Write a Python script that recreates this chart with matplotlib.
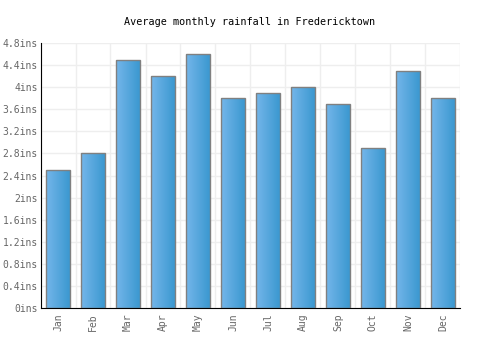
import numpy as np
import matplotlib.pyplot as plt
from matplotlib.colors import LinearSegmentedColormap

months = ['Jan', 'Feb', 'Mar', 'Apr', 'May', 'Jun', 'Jul', 'Aug', 'Sep', 'Oct', 'Nov', 'Dec']
rainfall = [2.5, 2.8, 4.5, 4.2, 4.6, 3.8, 3.9, 4.0, 3.7, 2.9, 4.3, 3.8]
yticks = [0, 0.4, 0.8, 1.2, 1.6, 2.0, 2.4, 2.8, 3.2, 3.6, 4.0, 4.4, 4.8]
ylabels = ['0ins', '0.4ins', '0.8ins', '1.2ins', '1.6ins', '2ins', '2.4ins',
           '2.8ins', '3.2ins', '3.6ins', '4ins', '4.4ins', '4.8ins']

plt.rcParams['font.family'] = ['DejaVu Sans Mono']

fig = plt.figure(figsize=(5, 3.5), dpi=100)
ax = fig.add_axes([0.081, 0.12, 0.84, 0.757])

x = np.arange(len(months))
bars = ax.bar(x, rainfall, width=0.67, facecolor='none', edgecolor='#808080', linewidth=1, zorder=3)

# horizontal gradient fill inside each bar
cmap = LinearSegmentedColormap.from_list('blu', ['#74b6ea', '#3b98d0'])
grad = np.linspace(0, 1, 64).reshape(1, -1)
for b in bars:
    x0, y0 = b.get_x(), b.get_y()
    w, h = b.get_width(), b.get_height()
    im = ax.imshow(grad, cmap=cmap, aspect='auto', extent=[x0, x0 + w, y0, y0 + h], zorder=2)
    im.set_clip_path(b)

ax.set_xlim(-0.5, len(months) - 0.5)
ax.set_ylim(0, 4.8)
ax.set_xticks(x)
ax.set_xticklabels(months, rotation=90, fontsize=7, color='#666666')
ax.set_yticks(yticks)
ax.set_yticklabels(ylabels, fontsize=7, color='#666666')
ax.set_xticks(np.arange(-0.5, len(months)), minor=True)
ax.tick_params(axis='y', length=0, pad=2)
ax.tick_params(axis='x', length=0, pad=4)
ax.tick_params(which='minor', length=0)
ax.grid(True, which='minor', axis='x', color='#eeeeee', linewidth=1, zorder=0)
ax.grid(True, which='major', axis='y', color='#eeeeee', linewidth=1, zorder=0)
ax.set_axisbelow(True)

for s in ['top', 'right']:
    ax.spines[s].set_visible(False)
ax.spines['left'].set_color('black')
ax.spines['bottom'].set_color('black')

fig.text(0.5, 0.938, 'Average monthly rainfall in Fredericktown', ha='center', va='center', fontsize=7.3)

fig.savefig('out.png')
